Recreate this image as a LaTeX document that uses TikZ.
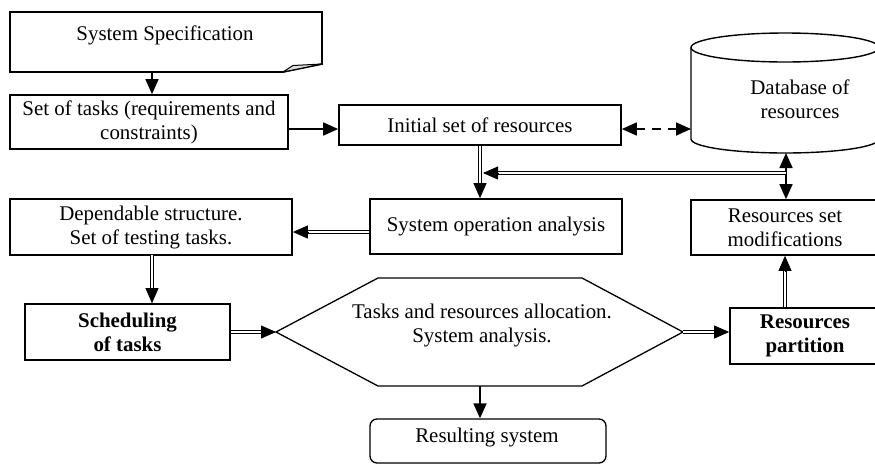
\documentclass[tikz,border=0pt]{standalone}
\usepackage{fontspec}
\setmainfont{Liberation Serif}
\usetikzlibrary{arrows.meta,calc}

% double-line connector: two thin rails ending in a solid triangular head
\newcommand\dblarrow[2]{%
  \draw[dbl] (#1) -- (#2);
  \draw[dbltip] ($(#2)!15pt!(#1)$) -- (#2);}

\begin{document}
\begin{tikzpicture}[x=1pt,y=-1pt,
  txt/.style={inner sep=0pt, align=center, font=\fontsize{20.9}{24}\selectfont},
  box/.style={txt, draw, line width=1.7pt},
  arr/.style={line width=1.7pt, -{Triangle[length=15pt,width=13pt]}},
  dbl/.style={double, line width=0.95pt, double distance=2pt, shorten >=14pt},
  dbltip/.style={line width=0.8pt, -{Triangle[length=15pt,width=13pt]}}]

\clip (0,0) rectangle (875,464);

% ---- System Specification (document with a curled corner)
\draw[line width=1.7pt] (10,12) -- (322,12) -- (322,64) -- (283,72) -- (10,72) -- cycle;
\draw[line width=1pt, fill=gray!25] (283,72) -- (293,65.5) -- (322,64) -- cycle;
\node[txt] (spec) at (165,35) {System Specification};
\coordinate (specB) at (152,72);

% ---- boxes
\node[box, minimum width=278pt, minimum height=54pt] (tasks) at (149,122)
  {Set of tasks (requirements and\\constraints)};
\node[box, minimum width=282pt, minimum height=40pt] (init) at (480,125)
  {Initial set of resources};
\node[box, minimum width=252pt, minimum height=55pt] (soa) at (496,226.5)
  {System operation analysis};
\node[box, minimum width=282pt, minimum height=56pt] (dep) at (151,227)
  {Dependable structure.\\Set of testing tasks.};
\node[box, minimum width=188pt, minimum height=55pt] (resmod) at (785,227.5)
  {Resources set\\modifications};
\node[box, minimum width=205pt, minimum height=56pt] (sched) at (127.5,332)
  {\textbf{Scheduling}\\\textbf{of tasks}};
\node[box, minimum width=150pt, minimum height=56pt] (part) at (805,336)
  {\textbf{Resources}\\\textbf{partition}};
\node[box, rounded corners=7pt, line width=1.3pt, minimum width=236pt, minimum height=44pt]
  (result) at (488,441) {};
\node[txt] (resulttxt) at (487,437) {Resulting system};

% ---- database cylinder
\draw[line width=1.4pt] (785,47.5) ellipse [x radius=94pt, y radius=14.5pt];
\draw[line width=1.4pt] (691,47.5) -- (691,139)
  arc[start angle=180, end angle=360, x radius=94pt, y radius=14pt] -- (879,47.5);
\node[txt] (db) at (800,99) {Database of\\resources};
\coordinate (dbL) at (691,129);
\coordinate (dbB) at (786,153);

% ---- allocation hexagon
\coordinate (hexL) at (276,332);
\coordinate (hexR) at (683,332);
\coordinate (hexB) at (480,386);
\draw[line width=1.3pt] (hexL) -- (378,278) -- (582,278) -- (hexR) -- (582,386) -- (378,386) -- cycle;
\node[txt] (hex) at (482,325) {Tasks and resources allocation.\\System analysis.};

% ---- single-line connectors
\draw[arr] (specB) -- (specB |- tasks.north);
\draw[arr] ($(tasks.east)+(0,7)$) -- ($(init.west)+(0,4)$);
\draw[line width=1.7pt, dash pattern=on 9pt off 7pt, {Triangle[length=15pt,width=13pt]}-{Triangle[length=15pt,width=13pt]}]
  ($(init.east)+(0,4)$) -- (dbL);
\draw[line width=1.7pt, {Triangle[length=15pt,width=13pt]}-{Triangle[length=15pt,width=13pt]}]
  (dbB) -- (dbB |- resmod.north);
\draw[arr] (hexB) -- (hexB |- result.north);

% ---- double-line connectors
\coordinate (junc) at (786,173);
\coordinate (juncL) at (483,173);
\coordinate (soaT) at (init.south |- soa.north);
\coordinate (soaW) at ($(soa.west)+(0,5.5)$);
\coordinate (depE) at ($(dep.east)+(0,5)$);
\coordinate (depS) at (152,255);
\coordinate (schedN) at (depS |- sched.north);
\coordinate (partW) at (hexR -| part.west);
\coordinate (partN) at (resmod.south |- part.north);

\dblarrow{init.south}{soaT}
\dblarrow{junc}{juncL}
\dblarrow{soaW}{depE}
\dblarrow{depS}{schedN}
\dblarrow{sched.east}{hexL}
\dblarrow{hexR}{partW}
\dblarrow{partN}{resmod.south}

\end{tikzpicture}
\end{document}
